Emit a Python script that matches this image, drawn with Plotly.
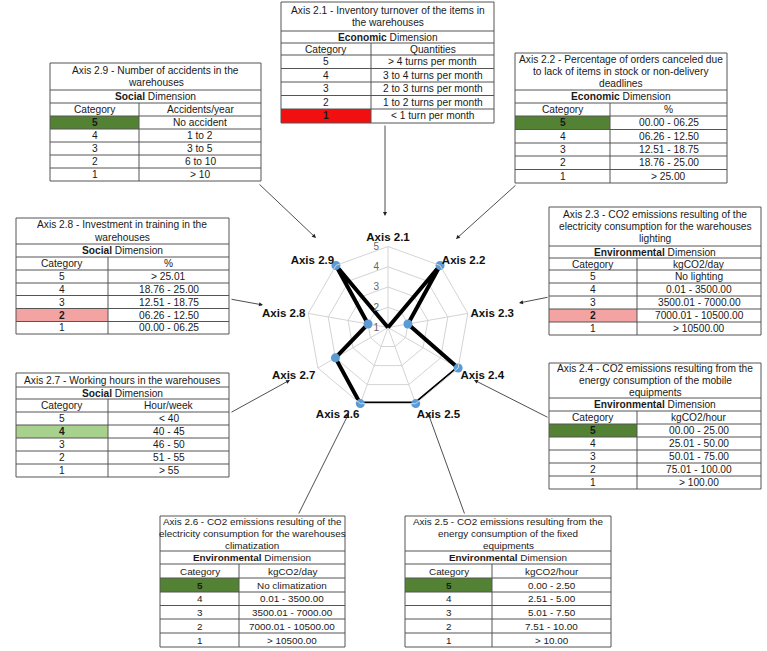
import plotly.graph_objects as go

W, H = 767, 651
FONT = "Liberation Sans, Arial, sans-serif"

# ---------------- data ----------------
axes_labels = ["Axis 2.1", "Axis 2.2", "Axis 2.3", "Axis 2.4", "Axis 2.5",
               "Axis 2.6", "Axis 2.7", "Axis 2.8", "Axis 2.9"]
scores = [1, 5, 2, 5, 5, 5, 4, 2, 5]
radial_ticks = [1, 2, 3, 4, 5]
categories = [5, 4, 3, 2, 1]

titles = {
    "2.1": ["Axis 2.1 - Inventory turnover of the items in", "the warehouses"],
    "2.2": ["Axis 2.2 - Percentage of orders canceled due", "to lack of items in stock or non-delivery", "deadlines"],
    "2.3": ["Axis 2.3 - CO2 emissions resulting of the", "electricity consumption for the warehouses", "lighting"],
    "2.4": ["Axis 2.4 - CO2 emissions resulting from the", "energy consumption of the mobile", "equipments"],
    "2.5": ["Axis 2.5 - CO2 emissions resulting from the", "energy consumption of the fixed", "equipments"],
    "2.6": ["Axis 2.6 - CO2 emissions resulting of the", "electricity consumption for the warehouses", "climatization"],
    "2.7": ["Axis 2.7 - Working hours in the warehouses"],
    "2.8": ["Axis 2.8 - Investment in training in the", "warehouses"],
    "2.9": ["Axis 2.9 - Number of accidents in the", "warehouses"],
}
dimensions = {"2.1": "Economic", "2.2": "Economic", "2.3": "Environmental", "2.4": "Environmental",
              "2.5": "Environmental", "2.6": "Environmental", "2.7": "Social", "2.8": "Social", "2.9": "Social"}
units = {"2.1": "Quantities", "2.2": "%", "2.3": "kgCO2/day", "2.4": "kgCO2/hour", "2.5": "kgCO2/hour",
         "2.6": "kgCO2/day", "2.7": "Hour/week", "2.8": "%", "2.9": "Accidents/year"}
ranges = {
    "2.1": ["> 4 turns per month", "3 to 4 turns per month", "2 to 3 turns per month", "1 to 2 turns per month", "< 1 turn per month"],
    "2.2": ["00.00 - 06.25", "06.26 - 12.50", "12.51 - 18.75", "18.76 - 25.00", "> 25.00"],
    "2.3": ["No lighting", "0.01 - 3500.00", "3500.01 - 7000.00", "7000.01 - 10500.00", "> 10500.00"],
    "2.4": ["00.00 - 25.00", "25.01 - 50.00", "50.01 - 75.00", "75.01 - 100.00", "> 100.00"],
    "2.5": ["0.00 - 2.50", "2.51 - 5.00", "5.01 - 7.50", "7.51 - 10.00", "> 10.00"],
    "2.6": ["No climatization", "0.01 - 3500.00", "3500.01 - 7000.00", "7000.01 - 10500.00", "> 10500.00"],
    "2.7": ["< 40", "40 - 45", "46 - 50", "51 - 55", "> 55"],
    "2.8": ["> 25.01", "18.76 - 25.00", "12.51 - 18.75", "06.26 - 12.50", "00.00 - 06.25"],
    "2.9": ["No accident", "1 to 2", "3 to 5", "6 to 10", "> 10"],
}
score_colors = {5: "#548235", 4: "#A9D18E", 3: "#FFD966", 2: "#F4A3A3", 1: "#F20F0F"}

# ---------------- layout (pixel boxes) ----------------
# key: (x0, x1, divider, [row boundaries], font size, arrow tail, arrow head)
boxes = {
    "2.1": (281, 494, 371, [2, 31, 43, 55, 68.5, 82, 95.5, 109, 123], 10.2, (385, 124), (385, 216)),
    "2.9": (50, 261, 139, [63, 90, 103, 116, 129, 142, 155, 168, 181], 10.2, (258, 183), (316, 238)),
    "2.2": (515, 727, 610, [53, 90, 103, 116, 129.5, 143, 156, 169.5, 183], 10.2, (517, 184), (456, 239)),
    "2.8": (16, 229, 108, [218, 244, 257, 270, 283, 295.5, 308.5, 321.5, 334], 10.2, (230, 299), (263, 305)),
    "2.3": (549, 761, 637, [207, 246, 258, 270, 283, 296, 309, 322, 335], 10.2, (549, 297), (519, 303)),
    "2.7": (16, 229, 108, [373, 387, 399, 412, 425, 438, 451, 464, 477], 10.2, (230, 413), (290, 380)),
    "2.4": (549, 761, 637, [363, 398, 411, 424, 437, 450, 463, 476, 489], 10.2, (549, 418), (474, 380)),
    "2.6": (160, 345, 239, [516, 551, 564, 578, 592, 605.5, 619, 633, 647], 9.9, (298, 515), (349, 413)),
    "2.5": (405, 611, 492, [516, 551, 564, 578, 592, 605.5, 619, 633, 647], 9.9, (465, 515), (428, 413)),
}
LINE_H = 12.4


def px(x):
    return x / W


def py(y):
    return 1 - y / H


def esc(s):
    return s.replace("<", "&lt;")


shapes = []
annotations = []
LINE = dict(color="#555555", width=1)

for i, key in enumerate(["2.1", "2.2", "2.3", "2.4", "2.5", "2.6", "2.7", "2.8", "2.9"]):
    x0, x1, dv, ys, fs, tail, head = boxes[key]
    sc = scores[i]
    ri = categories.index(sc)
    shapes.append(dict(type="rect", xref="paper", yref="paper",
                       x0=px(x0), x1=px(dv), y0=py(ys[4 + ri]), y1=py(ys[3 + ri]),
                       fillcolor=score_colors[sc], line=dict(width=0), layer="above"))
    shapes.append(dict(type="rect", xref="paper", yref="paper", x0=px(x0), x1=px(x1),
                       y0=py(ys[-1]), y1=py(ys[0]), line=LINE, fillcolor="rgba(0,0,0,0)"))
    for yy in ys[1:-1]:
        shapes.append(dict(type="line", xref="paper", yref="paper", x0=px(x0), x1=px(x1),
                           y0=py(yy), y1=py(yy), line=LINE))
    shapes.append(dict(type="line", xref="paper", yref="paper", x0=px(dv), x1=px(dv),
                       y0=py(ys[2]), y1=py(ys[-1]), line=LINE))
    tf = dict(family=FONT, size=fs, color="#1a1a1a")
    cx = (x0 + x1) / 2
    lines = titles[key]
    mid = (ys[0] + ys[1]) / 2
    for k, ln in enumerate(lines):
        yl = mid + (k - (len(lines) - 1) / 2) * LINE_H
        annotations.append(dict(x=px(cx), y=py(yl), xref="paper", yref="paper",
                                text=ln, showarrow=False, font=tf,
                                xanchor="center", yanchor="middle"))
    annotations.append(dict(x=px(cx), y=py((ys[1] + ys[2]) / 2), xref="paper", yref="paper",
                            text="<b>%s</b> Dimension" % dimensions[key], showarrow=False, font=tf,
                            xanchor="center", yanchor="middle"))
    annotations.append(dict(x=px((x0 + dv) / 2), y=py((ys[2] + ys[3]) / 2), xref="paper", yref="paper",
                            text="Category", showarrow=False, font=tf, xanchor="center", yanchor="middle"))
    annotations.append(dict(x=px((dv + x1) / 2), y=py((ys[2] + ys[3]) / 2), xref="paper", yref="paper",
                            text=units[key], showarrow=False, font=tf, xanchor="center", yanchor="middle"))
    for r, (c, v) in enumerate(zip(categories, ranges[key])):
        yc = py((ys[3 + r] + ys[4 + r]) / 2)
        ctext = "<b>%d</b>" % c if c == sc else str(c)
        annotations.append(dict(x=px((x0 + dv) / 2), y=yc, xref="paper", yref="paper", text=ctext,
                                showarrow=False, font=tf, xanchor="center", yanchor="middle"))
        annotations.append(dict(x=px((dv + x1) / 2), y=yc, xref="paper", yref="paper", text=esc(v),
                                showarrow=False, font=tf, xanchor="center", yanchor="middle"))
    annotations.append(dict(x=px(head[0]), y=py(head[1]), xref="paper", yref="paper",
                            ax=tail[0] - head[0], ay=tail[1] - head[1], axref="pixel", ayref="pixel",
                            text="", showarrow=True, arrowhead=2, arrowsize=1, arrowwidth=0.8,
                            arrowcolor="#222222", standoff=0))

# ---------------- radar ----------------
CX, CY, R = 388, 327.5, 81
fig = go.Figure()
fig.add_trace(go.Scatterpolar(
    r=scores + scores[:1], theta=axes_labels + axes_labels[:1],
    mode="lines+markers",
    line=dict(color="#000000", width=4),
    marker=dict(color="#5B9BD5", size=9),
    showlegend=False, hoverinfo="skip"))

fig.update_layout(
    width=W, height=H, autosize=False,
    margin=dict(l=0, r=0, t=0, b=0),
    paper_bgcolor="white", plot_bgcolor="white",
    font=dict(family=FONT),
    shapes=shapes, annotations=annotations,
    polar=dict(
        domain=dict(x=[px(CX - R), px(CX + R)], y=[py(CY + R), py(CY - R)]),
        bgcolor="white",
        gridshape="linear",
        radialaxis=dict(range=[1, 5], tickvals=radial_ticks, angle=90, tickangle=90,
                        side="counterclockwise",
                        showline=False, ticks="outside", ticklen=5, tickcolor="rgba(0,0,0,0)",
                        gridcolor="#d4d4d4", gridwidth=1,
                        tickfont=dict(family=FONT, size=10, color="#666666")),
        angularaxis=dict(direction="clockwise", rotation=90, type="category",
                         categoryarray=axes_labels, gridcolor="#d4d4d4", linecolor="#d4d4d4",
                         ticks="", tickfont=dict(family=FONT, size=11.5, color="#111111", weight="bold")),
    ),
)

fig.write_html("out.html", config={"displayModeBar": False},
               post_script="document.body.style.margin='0';document.body.style.overflow='hidden';")
